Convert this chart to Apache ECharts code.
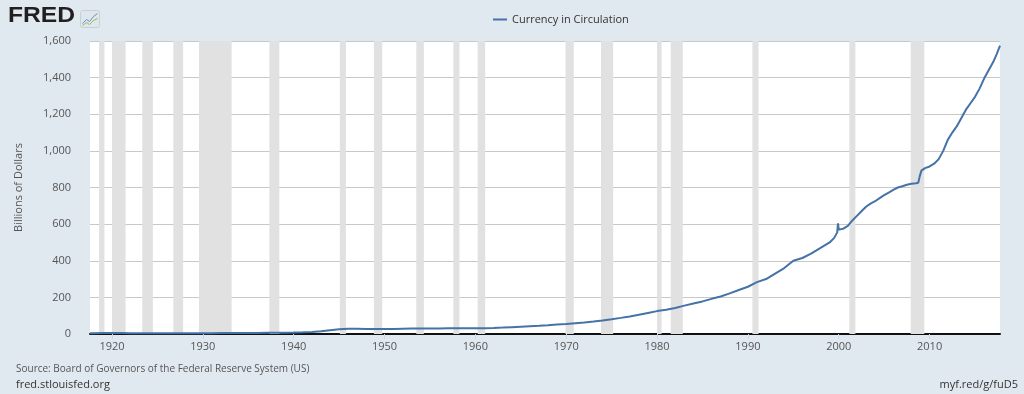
<!DOCTYPE html>
<html><head><meta charset="utf-8">
<script src="https://cdn.jsdelivr.net/npm/echarts@6/dist/echarts.min.js"></script>
<style>html,body{margin:0;padding:0;background:#e1e9f0;}#c{width:1024px;height:394px;}</style>
</head><body><div id="c"></div>
<script>
// Dates as decimal years, values in billions of dollars
const dates = [1917.58,1918,1919,1920,1921,1922,1923,1924,1925,1926,1927,1928,1929,1930,1931,1932,1933,1934,1935,1936,1937,1938,1939,
 1940,1941,1942,1943,1944,1945,1946,1947,1948,1949,1950,1951,1952,1953,1954,1955,1956,1957,1958,1959,
 1960,1961,1962,1963,1964,1965,1966,1967,1968,1969,1970,1971,1972,1973,1974,1975,1976,1977,1978,1979,
 1980,1981,1982,1983,1984,1985,1986,1987,1988,1989,1990,1991,1992,1993,1994,1995,1996,1997,1998,1999,1999.5,1999.83,
 1999.92,2000.0,2000.5,2001,2001.5,2002,2002.5,2003,2003.5,2004,2004.5,2005,2005.5,2006,2006.5,2007,2007.5,2008,2008.5,2008.75,2008.92,2009.1,2009.5,
 2010,2010.5,2011,2011.5,2012,2012.5,2013,2013.5,2014,2014.5,2015,2015.5,2016,2016.5,2017,2017.4,2017.75];
const values = [4.0,4.5,5.0,5.3,5.0,4.4,4.6,4.6,4.5,4.6,4.5,4.4,4.4,4.3,4.6,5.5,6.0,5.3,5.5,6.0,6.4,6.4,7.0,
 7.6,8.9,11.5,15.5,20.5,25.5,28.0,28.3,27.9,27.4,27.0,27.5,29.0,30.0,29.8,30.0,30.5,30.8,30.8,31.5,
 31.5,32.0,33.0,35.0,37.5,40.0,42.5,45.0,48.0,51.5,54.5,58.5,62.5,68.0,74.0,80.5,88.0,96.0,105,115,
 125,133,142,155,167,178,192,205,222,240,258,283,300,330,360,400,415,440,470,500,525,555,
 604,570,575,590,620,645,670,695,712,725,742,758,772,787,800,807,815,820,823,826,862,892,906,
 915,930,955,1000,1060,1100,1135,1180,1225,1260,1295,1340,1395,1440,1485,1530,1575];
const recessions = [[1918.58,1919.17],[1920.0,1921.5],[1923.33,1924.5],[1926.75,1927.83],[1929.58,1933.17],[1937.33,1938.42],
 [1945.08,1945.75],[1948.83,1949.75],[1953.5,1954.33],[1957.58,1958.25],[1960.25,1961.08],[1969.92,1970.83],[1973.83,1975.17],
 [1980.0,1980.5],[1981.5,1982.83],[1990.5,1991.17],[2001.17,2001.83],[2007.92,2009.42]];
const yearTicks = [1920,1930,1940,1950,1960,1970,1980,1990,2000,2010];
const seriesName = 'Currency in Circulation';

const data = dates.map((d,i)=>[d, values[i]]);
const chart = echarts.init(document.getElementById('c'), null, {renderer:'canvas'});
const FONT = '"Open Sans", sans-serif';
chart.setOption({
  backgroundColor:'#e1e9f0',
  animation:false,
  textStyle:{fontFamily:FONT},
  legend:{top:9,left:488,itemWidth:14,itemHeight:2,icon:'rect',itemGap:5,
    textStyle:{fontSize:11,color:'#333',fontFamily:FONT},data:[seriesName]},
  grid:{left:90,right:24,top:41,bottom:60,show:true,backgroundColor:'#ffffff',borderWidth:0},
  xAxis:{type:'value',min:1917.58,max:2017.75,
    axisLine:{show:true,onZero:false,lineStyle:{color:'#111',width:2}},
    splitLine:{show:false},
    axisTick:{show:true,customValues:yearTicks,length:5,lineStyle:{color:'#ccd6eb'}},
    axisLabel:{customValues:yearTicks,margin:7,fontSize:11,color:'#555',fontFamily:FONT,formatter:v=>String(Math.round(v))}},
  yAxis:{type:'value',min:0,max:1600,interval:200,
    name:'Billions of Dollars',nameLocation:'middle',nameRotate:90,nameGap:66,
    nameTextStyle:{fontSize:11,color:'#555',fontFamily:FONT},
    axisLine:{show:false},axisTick:{show:false},
    splitLine:{lineStyle:{color:'#c8c8c8',width:1}},
    axisLabel:{margin:19,fontSize:11,color:'#555',fontFamily:FONT,formatter:v=>v.toLocaleString('en-US')}},
  series:[{name:seriesName,type:'line',data:data,symbol:'none',showSymbol:false,
    lineStyle:{color:'#4572a7',width:2},itemStyle:{color:'#4572a7'},
    markArea:{silent:true,itemStyle:{color:'#e1e1e1'},
      data:recessions.map(r=>[{xAxis:r[0]},{xAxis:r[1]}])},
    z:3}],
  graphic:[
    {type:'text',x:8,y:5,scaleX:1.12,style:{text:'FRED',font:'900 22px "Liberation Sans", Arial, sans-serif',fill:'#231f20'}},
    {type:'group',left:80,top:10,children:[
      {type:'rect',shape:{x:0,y:0,width:19,height:17,r:2},style:{fill:'#dfe6ec',stroke:'#c7d0d8'}},
      {type:'polyline',shape:{points:[[2,13],[6,9],[9,11],[13,6],[17,3]]},style:{stroke:'#6b8fbf',lineWidth:1,fill:null}},
      {type:'polyline',shape:{points:[[2,15],[6,12],[9,14],[13,10],[17,8]]},style:{stroke:'#8dbf5a',lineWidth:1,fill:null}}
    ]},
    {type:'text',left:16,top:364,style:{text:'Source: Board of Governors of the Federal Reserve System (US)',font:'10px "Open Sans", sans-serif',fill:'#555'}},
    {type:'text',left:16,top:379,style:{text:'fred.stlouisfed.org',font:'11px "Open Sans", sans-serif',fill:'#333'}},
    {type:'text',right:6,top:379,style:{text:'myf.red/g/fuD5',font:'11px "Open Sans", sans-serif',fill:'#333'}}
  ]
});
</script></body></html>
